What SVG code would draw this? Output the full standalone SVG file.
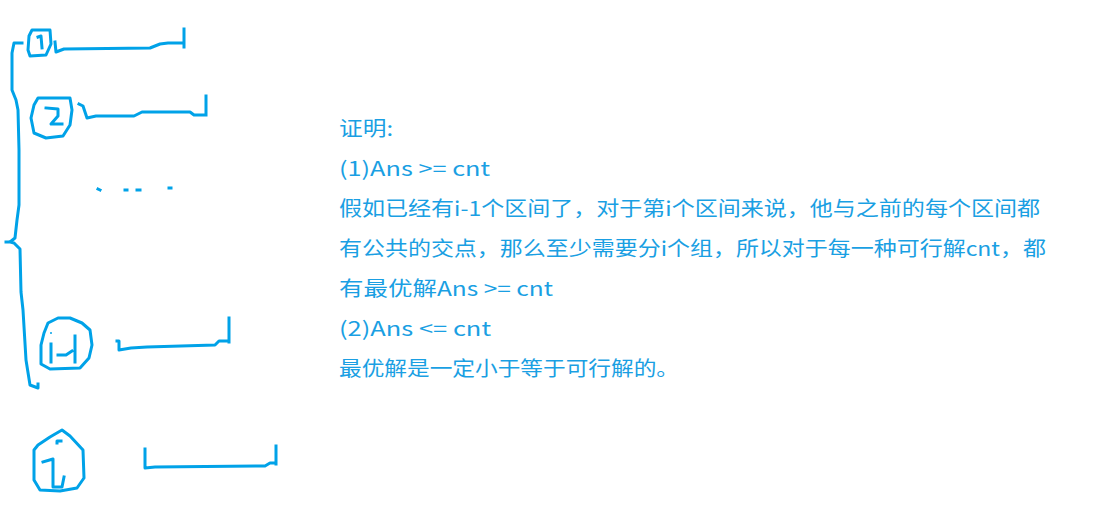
<svg xmlns="http://www.w3.org/2000/svg" width="1105" height="522" viewBox="0 0 1105 522">
<style>
.s{fill:none;stroke:#00a2e8;stroke-width:3;stroke-linejoin:round;stroke-linecap:square}
.t{font-family:"Noto Sans CJK SC","Noto Sans",sans-serif;font-size:20px;fill:#1a9fe3}
</style>
<rect width="1105" height="522" fill="#fff"/>
<g id="brace">
<path class="s" d="M22 43 L14 43 L12 53 L12 90 L16 100 L18 110 L19 150 L19 205 L17 220 L15 238 L10 242 L6 242 M10 242 L14 243 L20 249 L21 292 L23 310 L26 360 L30 385 L38 388 L38 384"/>
</g>
<g id="node1">
<path class="s" d="M32 30 L50 30 L51 44 L46 55 L30 56 L28 50 L29 36 Z"/>
<path class="s" d="M38 37 L41 36 L42 48"/>
<path class="s" d="M55 42 L56 52 L64 49 L150 48 L160 44 L168 43 L184 43 M184 29 L184 47"/>
</g>
<g id="node2">
<path class="s" d="M38 98 L70 98 L72 110 L70 125 L63 136 L46 138 L34 133 L31 118 L34 105 Z"/>
<path class="s" d="M46 108 L58 109 L58 116 L51 124 L62 124"/>
<path class="s" d="M79 104 L83 106 L87 118 L96 116 L134 116 L142 112 L190 112 L194 115 L206 115 M206 96 L206 115"/>
</g>
<g id="dots">
<path class="s" d="M98 189 L100 190 M125 190 L127 190 M137 190 L140 190 M169 188 L171 188"/>
</g>
<g id="node3">
<path class="s" d="M48 323 L58 318 L70 318 L82 323 L90 330 L92 345 L89 358 L80 368 L50 369 L41 364 L41 345 L44 333 Z"/>
<path class="s" d="M51 344 L51 362 M58 355 L66 355 L72 351 M75 336 L75 362"/>
<circle cx="51" cy="333" r="1" fill="#00a2e8"/>
</g>
<g id="node4">
<path class="s" d="M34 450 L38 445 L50 437 L62 430 L70 436 L83 450 L84 478 L77 488 L60 491 L40 490 L34 480 Z"/>
<path class="s" d="M57 443 L57 441 L61 441 M43 462 L53 459 L53 487 L62 487 L64 477"/>
</g>
<g id="connectors">
<path class="s" d="M117 341 L119 341 L119 350 L131 348 L147 347 L215 345 L219 341 L229 341 M229 318 L229 342"/>
<path class="s" d="M145 449 L145 468 L155 467 L265 466 L270 463 L276 463 M276 446 L276 464"/>
</g>
<g id="text">
<text class="t" x="339" y="136" textLength="54" lengthAdjust="spacingAndGlyphs">证明:</text>
<text class="t" x="339" y="176" textLength="151" lengthAdjust="spacingAndGlyphs">(1)Ans &gt;= cnt</text>
<text class="t" x="339" y="216" textLength="701" lengthAdjust="spacingAndGlyphs">假如已经有i-1个区间了，对于第i个区间来说，他与之前的每个区间都</text>
<text class="t" x="339" y="256" textLength="707" lengthAdjust="spacingAndGlyphs">有公共的交点，那么至少需要分i个组，所以对于每一种可行解cnt，都</text>
<text class="t" x="339" y="296" textLength="214" lengthAdjust="spacingAndGlyphs">有最优解Ans &gt;= cnt</text>
<text class="t" x="339" y="336" textLength="152" lengthAdjust="spacingAndGlyphs">(2)Ans &lt;= cnt</text>
<text class="t" x="339" y="376" textLength="340" lengthAdjust="spacingAndGlyphs">最优解是一定小于等于可行解的。</text>
</g>
</svg>
